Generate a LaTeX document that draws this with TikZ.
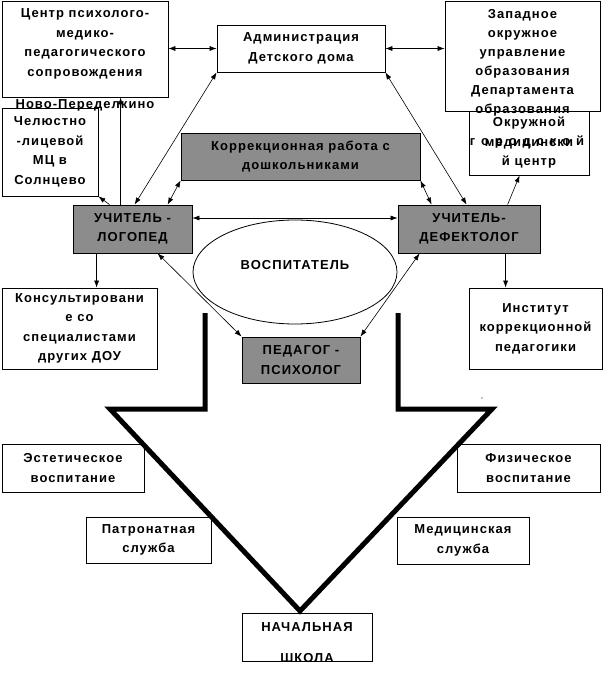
\documentclass[tikz,border=0pt]{standalone}
\usepackage{fontspec}
\setmainfont{Liberation Sans}[LetterSpace=8]
\usetikzlibrary{arrows.meta,shapes.geometric}
\definecolor{boxgray}{RGB}{140,140,140}
\newcommand{\txtfont}{\fontsize{13}{19.5}\selectfont\bfseries}
\begin{document}
\begin{tikzpicture}[x=1pt,y=-1pt,
  box/.style={draw, line width=0.8pt, fill=white, inner sep=0pt, align=center, font=\txtfont},
  gbox/.style={box, fill=boxgray},
  txt/.style={inner sep=0pt, align=center, font=\txtfont},
  link/.style={line width=0.6pt, -{Latex[length=7pt,width=5pt]}},
  dlink/.style={line width=0.6pt, {Latex[length=7pt,width=5pt]}-{Latex[length=7pt,width=5pt]}},
  big/.style={line width=5pt, line join=miter}]
\useasboundingbox[fill=white] (0,0) rectangle (614,688);

% top row
\node[box, minimum width=166pt, minimum height=96pt] (centr) at (85,49) {};
\node[txt] (centrT) at (85,44) {Центр психолого-\\медико-\\педагогического\\сопровождения};
\node[box, minimum width=168pt, minimum height=47pt] (admin) at (301,48.5) {Администрация\\Детского дома};
\node[box, minimum width=120pt, minimum height=64pt] (okruzh) at (529,143) {Окружной\\медицински\\й центр};
\node[txt] (okruzhT) at (527,142) {\addfontfeature{LetterSpace=46}городской};
\node[box, minimum width=155pt, minimum height=110pt] (zapad) at (522.5,56) {};
\node[txt, font=\fontsize{13}{19}\selectfont\bfseries] (zapadT) at (522.5,62.5) {Западное\\окружное\\управление\\образования\\Департамента\\образования};
\node[box, minimum width=96pt, minimum height=88pt] (chel) at (50,152) {Челюстно\\-лицевой\\МЦ в\\Солнцево};
\node[txt] (novo) at (85,105) {Ново-Переделкино};
\node[gbox, minimum width=239pt, minimum height=47pt] (korr) at (300.5,156.5) {Коррекционная работа с\\дошкольниками};

% middle row
\node[gbox, minimum width=119pt, minimum height=48pt] (logo) at (132.5,229) {УЧИТЕЛЬ -\\ЛОГОПЕД};
\node[gbox, minimum width=142pt, minimum height=48pt] (defekt) at (469,229) {УЧИТЕЛЬ-\\ДЕФЕКТОЛОГ};
\node[draw, line width=0.8pt, ellipse, minimum width=204pt, minimum height=104pt] (vosp) at (295,272) {};
\node[txt] (vospT) at (295,265) {ВОСПИТАТЕЛЬ};
\node[box, minimum width=155pt, minimum height=81pt] (konsult) at (79.5,328.5) {Консультировани\\е со\\специалистами\\других ДОУ};
\node[box, minimum width=133pt, minimum height=81pt] (institut) at (535.5,328.5) {Институт\\коррекционной\\педагогики};
\node[gbox, minimum width=118pt, minimum height=46pt] (pedagog) at (301,360) {ПЕДАГОГ -\\ПСИХОЛОГ};

% bottom boxes
\node[box, minimum width=142pt, minimum height=48pt] (estet) at (73,468) {Эстетическое\\воспитание};
\node[box, minimum width=143pt, minimum height=48pt] (fiz) at (528.5,468) {Физическое\\воспитание};
\node[box, minimum width=125pt, minimum height=46pt] (patron) at (148.5,540) {Патронатная\\служба};
\node[box, minimum width=132pt, minimum height=47pt] (medic) at (463,540.5) {Медицинская\\служба};
\node[box, minimum width=130pt, minimum height=48pt] (nach) at (307,637) {};
\node[txt] (nachA) at (307,627) {НАЧАЛЬНАЯ};
\node[txt] (nachB) at (307,658) {ШКОЛА};

% big arrow outline
\draw[big] (205,313) -- (205,409) -- (110,409) -- (300,611) -- (492,409) -- (398,409) -- (398,313);
\fill (482,398) circle (0.7pt);

% connectors
\draw[dlink] (admin.west -| centr.east) -- (admin.west);
\draw[dlink] (admin.east) -- (admin.east -| zapad.west);
\draw[dlink] (admin.south west) -- ([xshift=62pt]logo.north west);
\draw[dlink] (admin.south east) -- ([xshift=69pt]defekt.north west);
\draw[dlink] (korr.south west) -- ([xshift=95pt]logo.north west);
\draw[dlink] (korr.south east) -- ([xshift=34pt]defekt.north west);
\coordinate (lt) at ([xshift=48pt]logo.north west);
\draw[link] (lt) -- (lt |- centr.south);
\draw[link] ([xshift=37pt]logo.north west) -- (chel.south east);
\draw[link] ([xshift=110pt]defekt.north west) -- ([xshift=51pt]okruzh.south west);
\coordinate (lm) at ([yshift=11pt]logo.east);
\draw[dlink] (lm) -- (lm -| defekt.west);
\coordinate (lb) at ([xshift=24pt]logo.south west);
\draw[link] (lb) -- (lb |- konsult.north);
\draw[dlink] ([xshift=85pt]logo.south west) -- (pedagog.north west);
\draw[dlink] ([xshift=22pt]defekt.south west) -- (pedagog.north east);
\coordinate (db) at ([xshift=108pt]defekt.south west);
\draw[link] (db) -- (db |- institut.north);
\end{tikzpicture}
\end{document}
